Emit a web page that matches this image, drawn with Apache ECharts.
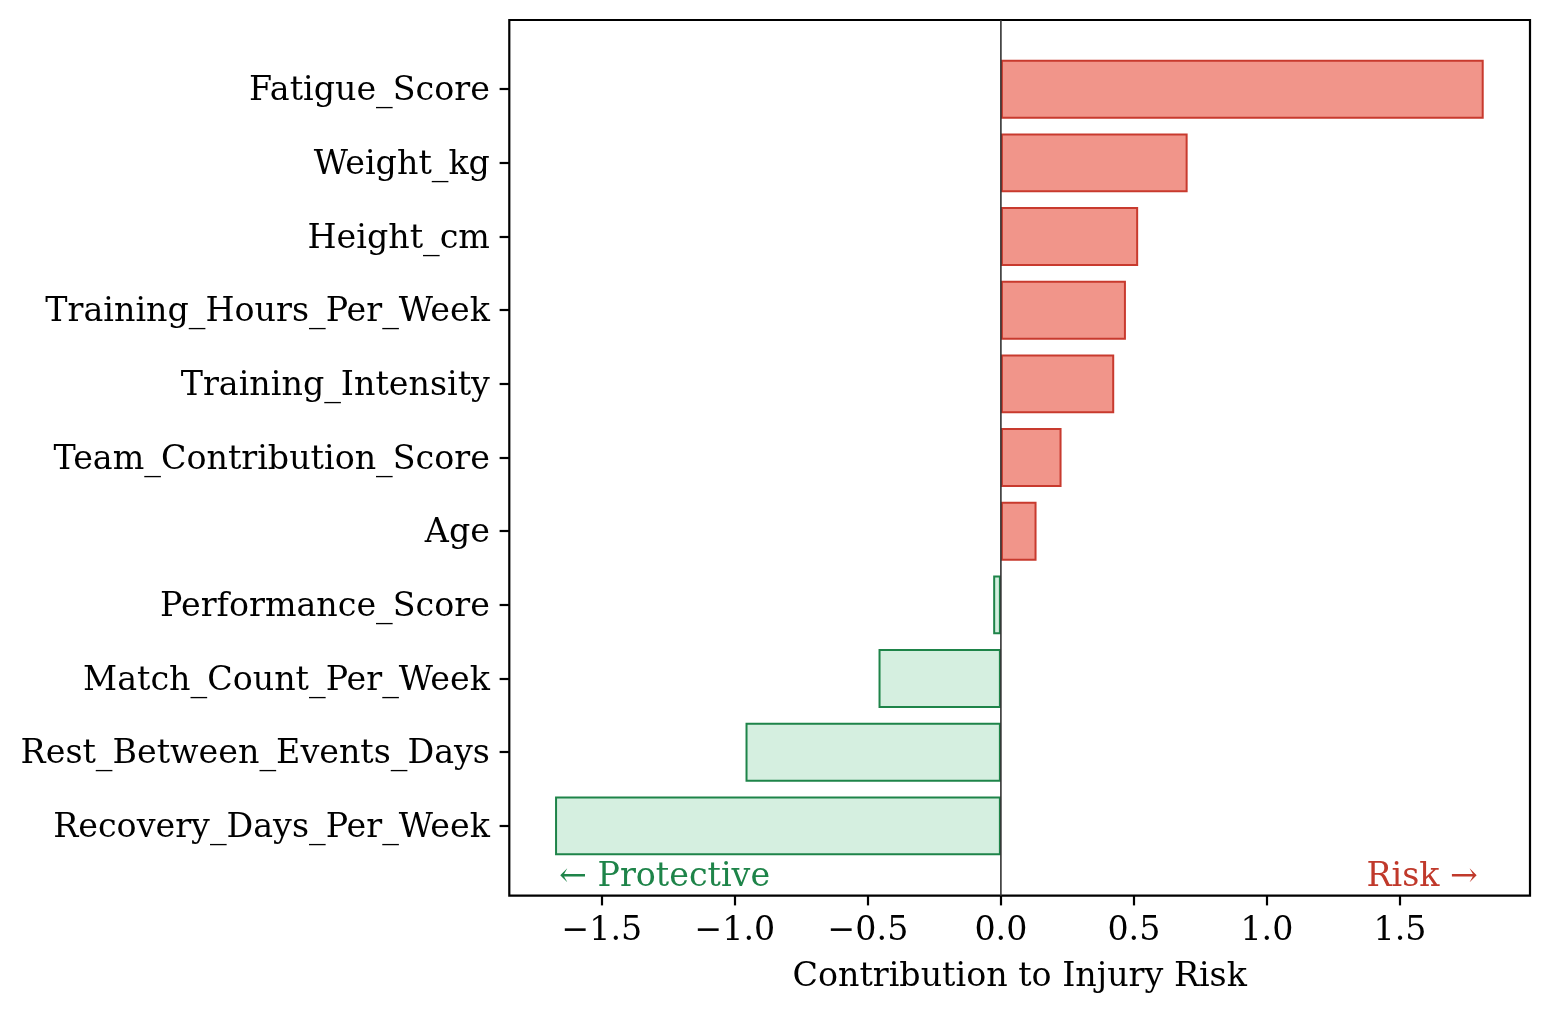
<!DOCTYPE html>
<html lang="en">
<head>
    <meta charset="UTF-8">
    <title>Contribution to Injury Risk</title>
    <script src="https://cdn.jsdelivr.net/npm/echarts@6/dist/echarts.min.js"></script>
    <style>
        html, body { margin: 0; padding: 0; background: #ffffff; }
        #main { width: 1550px; height: 1014px; }
    </style>
</head>
<body>
    <div id="main"></div>
    <script>
        // features, top to bottom
        var features = [
            'Fatigue_Score', 'Weight_kg', 'Height_cm', 'Training_Hours_Per_Week',
            'Training_Intensity', 'Team_Contribution_Score', 'Age', 'Performance_Score',
            'Match_Count_Per_Week', 'Rest_Between_Events_Days', 'Recovery_Days_Per_Week'
        ];
        var contributions = [1.815, 0.702, 0.516, 0.470, 0.426, 0.228, 0.134, -0.029, -0.460, -0.960, -1.676];
        var xTicks = [-1.5, -1.0, -0.5, 0.0, 0.5, 1.0, 1.5];
        var xRange = [-1.848, 1.989];

        var FONT = 'DejaVu Serif';
        var FS = 33.3;
        var RED_FILL = '#f1958a', RED_EDGE = '#c83a2e', RED_TEXT = '#c0392b';
        var GREEN_FILL = '#d5efe0', GREEN_EDGE = '#1e8449', GREEN_TEXT = '#1e8449';

        var chart = echarts.init(document.getElementById('main'));

        var barData = contributions.map(function (v) {
            var pos = v >= 0;
            return {
                value: v,
                itemStyle: {
                    color: pos ? RED_FILL : GREEN_FILL,
                    borderColor: pos ? RED_EDGE : GREEN_EDGE,
                    borderWidth: 2
                }
            };
        });

        function fmt(v) {
            return v.toFixed(1).replace('-', '\u2212');
        }

        var option = {
            animation: false,
            grid: [
                // frame of the axes
                { left: 509.3, right: 20, top: 20, bottom: 118.3, show: true,
                  borderColor: '#000', borderWidth: 2.2, backgroundColor: 'transparent' },
                // band for the bars (matplotlib y margins)
                { left: 509.3, right: 20, top: 52.4, bottom: 151.3 }
            ],
            xAxis: [
                {
                    gridIndex: 0, type: 'value', min: xRange[0], max: xRange[1],
                    axisLine: { show: false, onZero: false },
                    splitLine: { show: false },
                    axisTick: { show: true, length: 9.7, lineStyle: { color: '#000', width: 2.2 },
                                customValues: xTicks },
                    axisLabel: { customValues: xTicks, formatter: fmt, margin: 19,
                                 fontFamily: FONT, fontSize: FS, color: '#000' },
                    name: 'Contribution to Injury Risk',
                    nameLocation: 'middle', nameGap: 65,
                    nameTextStyle: { fontFamily: FONT, fontSize: FS, color: '#000' }
                },
                { gridIndex: 1, type: 'value', min: xRange[0], max: xRange[1], show: false }
            ],
            yAxis: [
                { gridIndex: 0, type: 'value', min: 0, max: 1, show: false },
                {
                    gridIndex: 1, type: 'category', data: features, inverse: true,
                    axisLine: { show: false, onZero: false },
                    axisTick: { show: true, alignWithLabel: true, length: 9.7,
                                lineStyle: { color: '#000', width: 2.2 } },
                    axisLabel: { margin: 19.4, verticalAlign: 'top', lineHeight: 5,
                                 fontFamily: FONT, fontSize: FS, color: '#000' }
                }
            ],
            series: [
                {
                    type: 'bar', xAxisIndex: 1, yAxisIndex: 1,
                    data: barData, barWidth: '80%', z: 2
                },
                {
                    // zero reference line
                    type: 'line', xAxisIndex: 0, yAxisIndex: 0,
                    data: [[0, 0], [0, 1]], symbol: 'none', silent: true, z: 5,
                    lineStyle: { color: '#333', width: 1.6 }
                }
            ],
            graphic: [
                { type: 'text', left: 559, top: 861, z: 10,
                  style: { text: '\u2190 Protective', fontFamily: FONT, fontSize: FS, fill: GREEN_TEXT } },
                { type: 'text', right: 1550 - 1478, top: 861, z: 10,
                  style: { text: 'Risk \u2192', fontFamily: FONT, fontSize: FS, fill: RED_TEXT } }
            ]
        };

        chart.setOption(option);
    </script>
</body>
</html>
